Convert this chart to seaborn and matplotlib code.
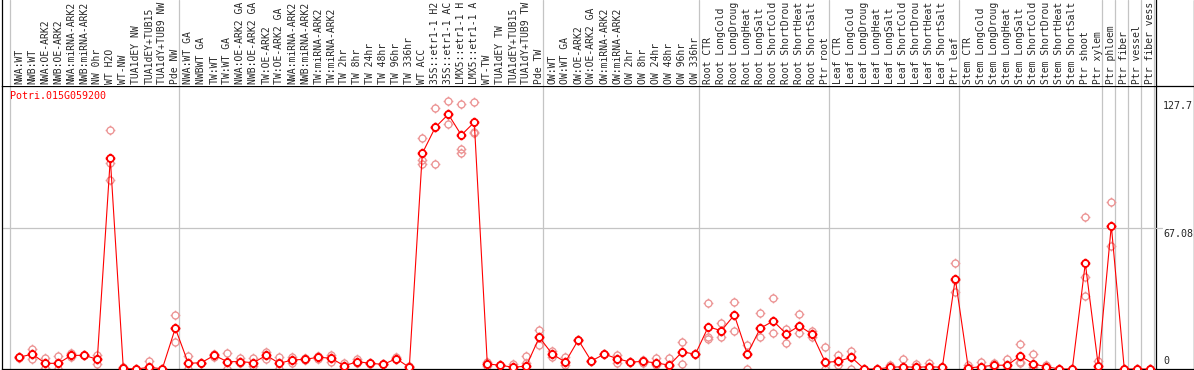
"""
Expression profile of Potri.015G059200 across poplar samples.
Mean per sample as a red line, replicates as pale circles.
"""
import matplotlib
matplotlib.use("Agg")
import matplotlib.pyplot as plt
import matplotlib.transforms as mtransforms
from matplotlib.lines import Line2D
from matplotlib.path import Path
import numpy as np
import pandas as pd
import seaborn as sns

sns.set_style("white")
plt.rcParams["font.family"] = ["DejaVu Sans Mono"]

GENE = "Potri.015G059200"

samples = [
    "NWA:WT", "NWB:WT", "NWA:OE-ARK2", "NWB:OE-ARK2", "NWA:miRNA-ARK2",
    "NWB:miRNA-ARK2", "NW 0hr", "WT H2O", "WT-NW", "TUA1dEY NW",
    "TUA1dEY+TUB15", "TUA1dY+TUB9 NW", "Pde NW",
    "NWA:WT GA", "NWBWT GA", "TW:WT", "TW:WT GA", "NWA:OE-ARK2 GA",
    "NWB:OE-ARK2 GA", "TW:OE-ARK2", "TW:OE-ARK2 GA", "NWA:miRNA-ARK2",
    "NWB:miRNA-ARK2", "TW:miRNA-ARK2", "TW:miRNA-ARK2", "TW 2hr", "TW 8hr",
    "TW 24hr", "TW 48hr", "TW 96hr", "TW 336hr", "WT ACC", "35S::etr1-1 H2",
    "35S::etr1-1 AC", "LMX5::etr1-1 H", "LMX5::etr1-1 A", "WT-TW",
    "TUA1dEY TW", "TUA1dEY+TUB15", "TUA1dY+TUB9 TW", "Pde TW",
    "OW:WT", "OW:WT GA", "OW:OE-ARK2", "OW:OE-ARK2 GA", "OW:miRNA-ARK2",
    "OW:miRNA-ARK2", "OW 2hr", "OW 8hr", "OW 24hr", "OW 48hr", "OW 96hr",
    "OW 336hr",
    "Root CTR", "Root LongCold", "Root LongDroug", "Root LongHeat",
    "Root LongSalt", "Root ShortCold", "Root ShortDrou", "Root ShortHeat",
    "Root ShortSalt", "Ptr root",
    "Leaf CTR", "Leaf LongCold", "Leaf LongDroug", "Leaf LongHeat",
    "Leaf LongSalt", "Leaf ShortCold", "Leaf ShortDrou", "Leaf ShortHeat",
    "Leaf ShortSalt", "Ptr leaf",
    "Stem CTR", "Stem LongCold", "Stem LongDroug", "Stem LongHeat",
    "Stem LongSalt", "Stem ShortCold", "Stem ShortDrou", "Stem ShortHeat",
    "Stem ShortSalt", "Ptr shoot", "Ptr xylem",
    "Ptr phloem", "Ptr fiber", "Ptr vessel", "Ptr fiber vess",
]

# last sample index of each block (grey separators)
group_ends = [-1, 12, 40, 52, 62, 72, 83, 84, 85, 86, 87]

mean_expr = [
    5.6, 7.1, 2.7, 2.7, 6.5, 6.5, 4.6, 100.2, 0.3, 0.0,
    0.8, 0.1, 19.4, 2.7, 3.0, 6.5, 3.5, 3.5, 3.0, 6.5,
    2.7, 4.3, 4.6, 5.6, 5.1, 1.5, 3.5, 2.7, 2.2, 4.9,
    0.8, 102.6, 115.0, 121.2, 111.3, 117.4, 2.4, 1.8, 0.8, 1.4,
    15.1, 7.1, 3.3, 13.8, 3.8, 7.1, 4.9, 3.3, 3.6, 2.9,
    1.8, 8.2, 7.0, 20.1, 18.2, 25.7, 7.1, 19.4, 22.8, 16.7,
    20.5, 16.5, 3.2, 3.6, 5.6, 0.0, 0.0, 0.8, 1.1, 0.8,
    1.1, 0.8, 43.0, 0.5, 1.1, 1.8, 1.8, 6.2, 2.4, 1.1,
    0.0, 0.0, 50.3, 1.4, 68.2, 0.0, 0.0, 0.0,
]

rep_a = [
    5.9, 9.4, 5.1, 6.2, 7.5, 6.5, 6.7, 113.5, 0.8, 0.0,
    3.8, 0.1, 25.5, 6.2, 3.0, 7.1, 7.5, 5.1, 5.1, 8.2,
    5.9, 5.9, 5.1, 6.2, 6.7, 2.7, 4.9, 3.0, 2.2, 5.9,
    1.4, 109.7, 124.0, 127.7, 125.9, 126.9, 3.5, 1.8, 2.4, 6.2,
    18.6, 8.7, 5.6, 13.8, 3.8, 7.1, 6.5, 3.3, 4.3, 5.1,
    5.1, 12.8, 7.0, 31.2, 21.7, 31.7, 11.4, 26.5, 33.6, 18.9,
    26.0, 18.2, 10.3, 6.7, 8.7, 0.0, 0.0, 1.9, 4.6, 2.4,
    2.7, 0.8, 50.3, 1.8, 3.3, 2.7, 4.6, 11.7, 7.0, 1.8,
    0.0, 0.0, 72.2, 3.8, 79.3, 0.0, 0.0, 0.0,
]

rep_b = [
    5.6, 7.1, 2.7, 2.7, 6.5, 6.5, 4.6, 97.8, 0.3, 0.0,
    0.8, 0.0, 19.4, 2.7, 3.0, 6.5, 3.5, 3.5, 3.0, 6.5,
    2.7, 4.3, 4.6, 5.6, 5.1, 1.5, 3.5, 2.7, 2.2, 4.9,
    0.8, 99.4, 115.0, 121.2, 104.7, 112.9, 2.4, 1.8, 0.8, 3.0,
    15.1, 7.1, 3.3, 13.8, 3.8, 7.1, 4.9, 3.3, 3.6, 2.9,
    1.8, 8.2, 7.0, 15.4, 18.2, 25.7, 7.1, 19.4, 22.8, 16.7,
    20.5, 16.5, 3.2, 3.6, 5.6, 0.0, 0.0, 0.8, 1.1, 0.8,
    1.1, 0.0, 42.3, 0.5, 1.1, 1.8, 1.8, 3.5, 2.4, 1.1,
    0.0, 0.0, 43.6, 1.4, 68.2, 0.0, 0.0, 0.0,
]

rep_c = [
    5.3, 4.6, 0.3, 0.0, 5.9, 6.5, 2.4, 89.9, 0.0, 0.0,
    0.0, 0.0, 12.7, 0.0, 3.0, 5.9, 0.0, 2.7, 1.4, 4.9,
    0.0, 2.7, 4.1, 4.6, 3.5, 0.3, 2.7, 2.4, 2.2, 4.9,
    0.0, 97.5, 97.5, 116.4, 102.6, 112.1, 1.4, 1.8, 0.0, 1.4,
    11.4, 5.6, 1.8, 13.8, 3.8, 7.1, 2.7, 3.3, 3.0, 1.8,
    1.4, 2.4, 7.0, 14.1, 15.4, 18.2, 0.0, 15.4, 17.0, 12.2,
    17.0, 15.4, 0.0, 2.0, 0.0, 0.0, 0.0, 0.0, 0.0, 0.0,
    0.0, 0.0, 36.8, 0.0, 0.0, 1.1, 0.0, 2.7, 1.1, 0.0,
    0.0, 0.0, 34.9, 0.0, 58.7, 0.0, 0.0, 0.0,
]

y_ticks = [0, 67.08, 127.7]
y_tick_labels = ["0", "67.08", "127.7"]

RED = "#ff0000"
PINK = "#ec9494"
GRID = "#c4c4c4"

W, H = 1194, 370


def ring_marker(tick=1.4):
    """open circle with four short ticks sticking out of it"""
    circ = Path.circle((0, 0), 1.0)
    ticks = Path(
        [(0, 1), (0, tick), (0, -1), (0, -tick),
         (1, 0), (tick, 0), (-1, 0), (-tick, 0)],
        [Path.MOVETO, Path.LINETO] * 4,
    )
    return Path.make_compound_path(circ, ticks)


def px_x(p):
    return p / W


def px_y(p):
    # p is measured from the top of the picture
    return 1 - p / H


x_idx = np.arange(len(samples))
mean_df = pd.DataFrame({"sample": x_idx, "expr": mean_expr})
rep_df = pd.DataFrame({
    "sample": np.tile(x_idx, 3),
    "expr": rep_a + rep_b + rep_c,
    "rep": np.repeat(["a", "b", "c"], len(samples)),
})

left_px, right_px, top_px, bottom_px = 1.5, 1155.7, 85.7, 369.0
fig = plt.figure(figsize=(W / 100, H / 100), dpi=100)
ax = fig.add_axes([px_x(left_px), px_y(bottom_px),
                   px_x(right_px - left_px), (bottom_px - top_px) / H])
lab = fig.add_axes([px_x(left_px), px_y(top_px),
                    px_x(right_px - left_px), top_px / H], sharex=ax)

marker = ring_marker()

# replicates: markers only, one "unit" per replicate
sns.lineplot(data=rep_df, x="sample", y="expr", units="rep", estimator=None,
             ax=ax, color=PINK, linestyle="", marker=marker, markersize=7.0,
             markerfacecolor="none", markeredgecolor=PINK,
             markeredgewidth=0.95, sort=False, zorder=2, legend=False)
sns.lineplot(data=mean_df, x="sample", y="expr", ax=ax, color=RED, lw=0.8,
             marker=marker, markersize=7.0, markerfacecolor="white",
             markeredgecolor=RED, markeredgewidth=1.3, errorbar=None,
             sort=False, zorder=3)

ax.set_xlim((left_px - 19.3) / 13, (right_px - 19.3) / 13)
ax.set_ylim(0, 134.8)
ax.set_xlabel("")
ax.set_ylabel("")
ax.set_xticks([])
ax.set_yticks([])
for s in ax.spines.values():
    s.set_color("black")
    s.set_linewidth(0.9)

for e in group_ends:
    ax.axvline(e + 0.3, color=GRID, lw=0.9, zorder=0)
    lab.axvline(e + 0.3, color=GRID, lw=0.9, zorder=0)
ax.axhline(y_ticks[1], color=GRID, lw=0.9, zorder=0)

ax.text(0.0074, 0.982, GENE, transform=ax.transAxes, color=RED,
        fontsize=7.2, va="top", ha="left")

# tick values on the right, outside the plot frame
trans = mtransforms.blended_transform_factory(ax.transAxes, ax.transData)
for v, t in zip(y_ticks, y_tick_labels):
    if v == 0:
        ax.text(1.0063, v + 1.6, t, transform=trans, fontsize=7.2,
                va="bottom", ha="left", clip_on=False)
    else:
        ax.text(1.0063, v - 0.3, t, transform=trans, fontsize=7.2,
                va="top", ha="left", clip_on=False)

# sample names, rotated, in the strip above the plot
lab.set_ylim(0, 1)
lab.set_yticks([])
lab.tick_params(axis="x", bottom=False, labelbottom=False)
for side in ["top", "bottom"]:
    lab.spines[side].set_visible(False)
for side in ["left", "right"]:
    lab.spines[side].set_color("black")
    lab.spines[side].set_linewidth(0.9)
lab_trans = mtransforms.blended_transform_factory(lab.transData, lab.transAxes)
for i, name in enumerate(samples):
    lab.text(i, 0.02, name, transform=lab_trans, rotation=90, fontsize=7,
             ha="center", va="bottom")

# frame of the right-hand strip
fig.add_artist(Line2D([px_x(1193.5)] * 2, [0, 1], color="black", lw=0.9))
fig.add_artist(Line2D([px_x(right_px), 1], [px_y(top_px)] * 2,
                      color="black", lw=0.9))
fig.add_artist(Line2D([px_x(right_px), 1], [px_y(bottom_px)] * 2,
                      color="black", lw=0.9))
grid_y = px_y(bottom_px) + (bottom_px - top_px) / H * y_ticks[1] / 134.8
fig.add_artist(Line2D([px_x(right_px), px_x(1162)], [grid_y] * 2,
                      color=GRID, lw=0.9))

fig.savefig("out.png", dpi=100)
plt.close(fig)
